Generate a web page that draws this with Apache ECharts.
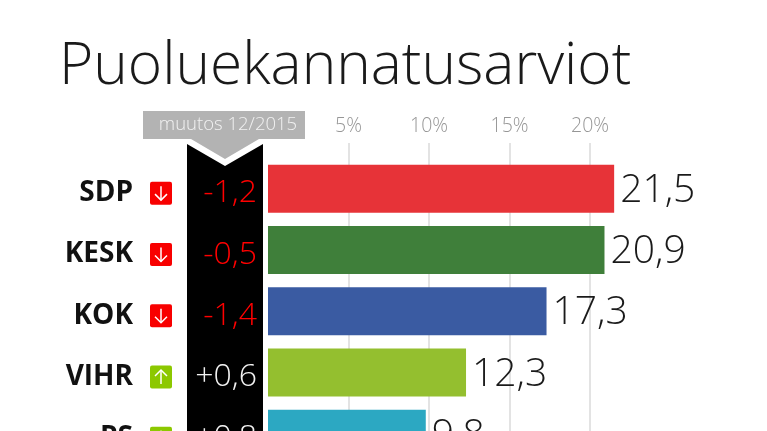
<!DOCTYPE html>
<html><head><meta charset="utf-8">
<style>html,body{margin:0;padding:0;background:#fff;overflow:hidden;height:431px}#c{width:767px;height:480px}</style>
<script src="https://cdn.jsdelivr.net/npm/echarts@6/dist/echarts.min.js"></script>
</head><body><div id="c"></div>
<script>
const parties = ['SDP','KESK','KOK','VIHR','PS'];
const support = [21.5,20.9,17.3,12.3,9.8];
const changes = [-1.2,-0.5,-1.4,0.6,0.8];
const barColors = ['#e73338','#3f7f3a','#3a5ba2','#94bf2f','#2ca8c2'];
const ticks = [5,10,15,20];
const titleText = 'Puoluekannatusarviot';
const changeHeader = 'muutos 12/2015';

const comma = v => String(v.toFixed(1)).replace('.',',');
const signed = v => (v>0?'+':'-') + comma(Math.abs(v));
const chart = echarts.init(document.getElementById('c'),null,{renderer:'canvas'});
const axisFont = {color:'#969696',fontFamily:'Open Sans',fontSize:19.5,fontWeight:300};

chart.setOption({
  animation:false,
  title:{text:titleText,left:59,top:38,padding:0,textStyle:{fontFamily:'Open Sans',fontWeight:300,fontSize:58.6,color:'#1a1a1a'}},
  grid:[
    {left:268,top:143,width:402.5,height:337},
    {left:268,top:158,width:402.5,height:306.5}
  ],
  xAxis:[
    {gridIndex:0,type:'value',position:'top',min:0,max:25,interval:5,
     axisLine:{show:false},axisTick:{show:false},
     splitLine:{show:true,showMinLine:false,showMaxLine:false,lineStyle:{color:'#e3e3e3',width:2}},
     axisLabel:{...axisFont,margin:7,formatter:v=>ticks.includes(v)?v+'%':''}},
    {gridIndex:1,type:'value',min:0,max:25,show:false}
  ],
  yAxis:[
    {gridIndex:0,type:'category',data:[],show:false},
    {gridIndex:1,type:'category',data:parties,inverse:true,
     axisLine:{show:false},axisTick:{show:false},axisLabel:{show:false}}
  ],
  graphic:[
    {type:'polygon',z:1,shape:{points:[[187,144],[225,166],[263,144],[263,480],[187,480]]},style:{fill:'#000'}},
    {type:'polygon',z:1,shape:{points:[[143,111],[305,111],[305,139],[259,139],[225,159],[191,139],[143,139]]},style:{fill:'#b3b3b3'}},
    {type:'text',z:2,x:228,y:125,style:{text:changeHeader,fill:'#f2f2f2',font:'300 18.5px "Open Sans"',align:'center',verticalAlign:'middle'}}
  ],
  series:[
    {type:'bar',xAxisIndex:1,yAxisIndex:1,barWidth:48,z:3,
     data:support.map((v,i)=>({value:v,itemStyle:{color:barColors[i]}})),
     label:{show:true,position:'right',distance:6,offset:[0,2],formatter:p=>comma(p.value),
       fontFamily:'Open Sans',fontWeight:300,fontSize:39,color:'#1a1a1a'}},
    {type:'custom',xAxisIndex:1,yAxisIndex:1,z:5,clip:false,
     data:changes.map((v,i)=>[0,i,v]),
     encode:{x:0,y:1},
     renderItem:(params,api)=>{
       const i=api.value(1), y=api.coord([0,i])[1]+4.5, v=api.value(2), up=v>0;
       const badge=up?'#8cc800':'#f80000';
       return {type:'group',children:[
         {type:'text',style:{x:133,y:y,text:parties[i],align:'right',verticalAlign:'middle',
           fill:'#111',font:'700 28px "Open Sans"'}},
         {type:'rect',shape:{x:150,y:y-11.5,width:22,height:23,r:2},style:{fill:badge}},
         {type:'polyline',shape:{points:[[161,y+(up?7:-7)],[161,y+(up?-7:7)]]},style:{fill:null,stroke:'#fff',lineWidth:1.5}},
         {type:'polyline',shape:{points:[[155,y+(up?-1:1)],[161,y+(up?-7:7)],[167,y+(up?-1:1)]]},style:{fill:null,stroke:'#fff',lineWidth:1.5}},
         {type:'text',style:{x:257,y:y,text:signed(v),align:'right',verticalAlign:'middle',
           fill:up?'#f2f2f2':'#ff0000',font:'300 32px "Open Sans"'}}
       ]};
     }}
  ]
});
</script></body></html>
